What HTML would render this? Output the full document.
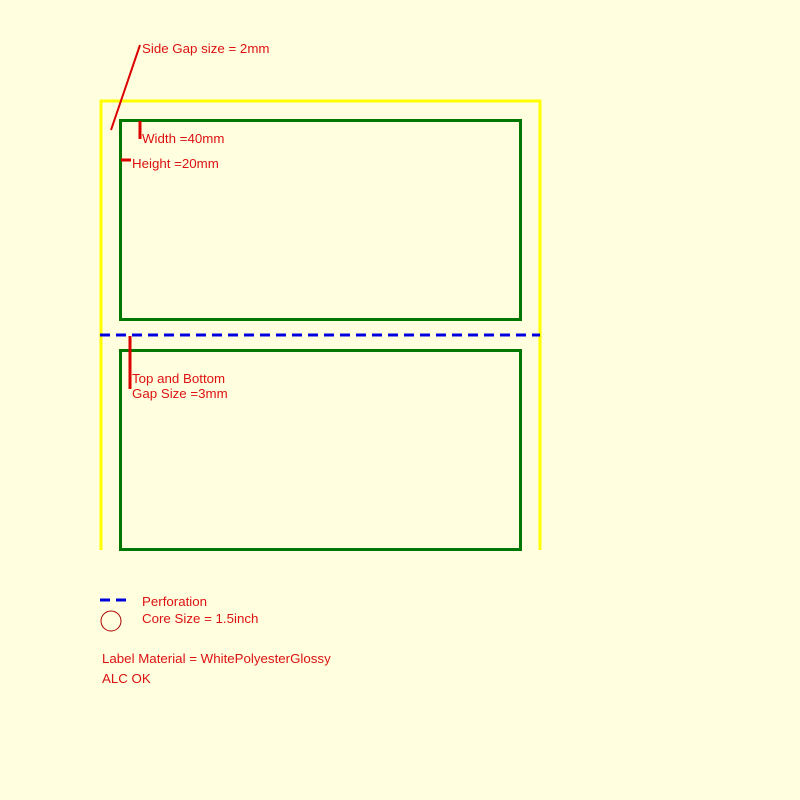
<!DOCTYPE html>
<html><head><style>html,body{margin:0;padding:0;background:#ffffe0;}svg{display:block}</style></head>
<body>
<svg width="800" height="800" xmlns="http://www.w3.org/2000/svg">
<rect width="800" height="800" fill="#ffffe0"/>
<g fill="none">
<polyline points="101,550 101,101 540,101 540,550" stroke="#ffff00" stroke-width="3"/>
<rect x="120.5" y="120.5" width="400" height="199" stroke="#007700" stroke-width="3"/>
<rect x="120.5" y="350.5" width="400" height="199" stroke="#007700" stroke-width="3"/>
<line x1="100" y1="335" x2="540" y2="335" stroke="#0000dd" stroke-width="3" stroke-dasharray="10,6"/>
<line x1="140" y1="45" x2="111" y2="130" stroke="#dd0000" stroke-width="2"/>
<line x1="140" y1="121" x2="140" y2="139" stroke="#dd0000" stroke-width="3"/>
<line x1="121" y1="160" x2="131" y2="160" stroke="#dd0000" stroke-width="3"/>
<line x1="130" y1="336" x2="130" y2="389" stroke="#dd0000" stroke-width="3"/>
<line x1="100" y1="600" x2="130" y2="600" stroke="#0000dd" stroke-width="3" stroke-dasharray="10,6"/>
<circle cx="111" cy="621" r="10" stroke="#aa0000" stroke-width="1"/>
</g>
<g font-family="Liberation Sans, sans-serif" font-size="13.3" fill="#dd1111">
<text x="142" y="53">Side Gap size = 2mm</text>
<text x="142" y="143">Width =40mm</text>
<text x="132" y="168">Height =20mm</text>
<text x="132" y="383">Top and Bottom</text>
<text x="132" y="398">Gap Size =3mm</text>
<text x="142" y="606">Perforation</text>
<text x="142" y="623">Core Size = 1.5inch</text>
<text x="102" y="663">Label Material = WhitePolyesterGlossy</text>
<text x="102" y="683">ALC OK</text>
</g>
</svg>
</body></html>
